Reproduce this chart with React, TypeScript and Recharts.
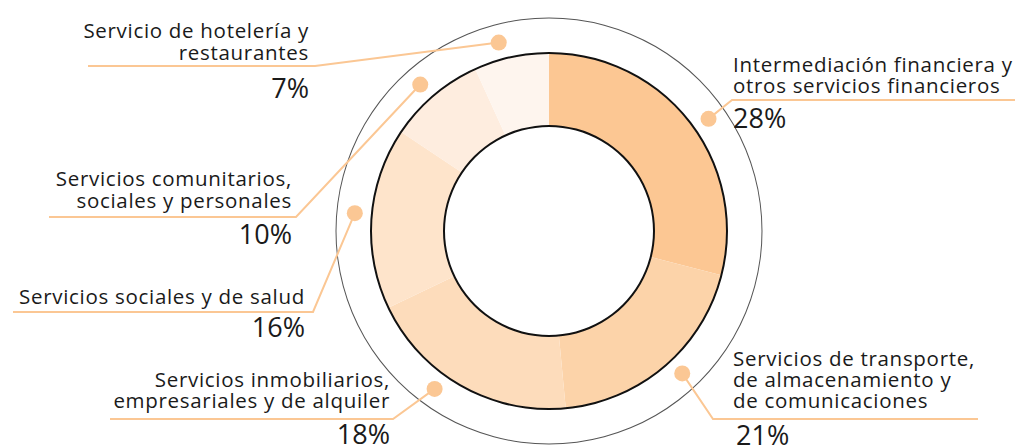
import React from 'react';
import { PieChart, Pie, Cell } from 'recharts';

// slice shares as drawn (the printed percentages are kept separately)
const sectors = [
  'Intermediación financiera y|otros servicios financieros',
  'Servicios de transporte,|de almacenamiento y|de comunicaciones',
  'Servicios inmobiliarios,|empresariales y de alquiler',
  'Servicios sociales y de salud',
  'Servicios comunitarios,|sociales y personales',
  'Servicio de hotelería y|restaurantes',
];
const shares = [29.0, 19.5, 19.4, 16.5, 8.8, 6.8];
const pctLabels = ['28%', '21%', '18%', '16%', '10%', '7%'];

const colors = ['#fcc793', '#fcd3a9', '#fddcbb', '#fee4cb', '#feeddf', '#fef5ee'];
const lineColor = '#fbc794';
const textColor = '#1a1a1a';
const font = '"Open Sans", Roboto, sans-serif';

const data = sectors.map((name, i) => ({ name, value: shares[i], pct: pctLabels[i] }));

// label layout: dot angle nudge, elbow of the leader, far end of the rule, text anchor and baselines
const layout = [
  { side: 'right', nudge: -2.7, elbowX: 732, lineY: 100, farX: 1015, textX: 733, lines: [72, 93], pctX: 733, pctY: 128 },
  { side: 'right', nudge: 2.6, elbowX: 713, lineY: 419, farX: 978, textX: 733, lines: [366, 387, 408], pctX: 736, pctY: 445 },
  { side: 'left', nudge: -6.4, elbowX: 393, lineY: 419, farX: 110, textX: 390, lines: [387, 408], pctX: 390, pctY: 444 },
  { side: 'left', nudge: -1.1, elbowX: 313, lineY: 312, farX: 13, textX: 305, lines: [304], pctX: 305, pctY: 337 },
  { side: 'left', nudge: 1, elbowX: 296, lineY: 217, farX: 49, textX: 292, lines: [186, 208], pctX: 292, pctY: 244 },
  { side: 'left', nudge: 2.7, elbowX: 315, lineY: 66, farX: 88, textX: 309, lines: [38, 60], pctX: 309, pctY: 98 },
];

const RADIAN = Math.PI / 180;

const renderLabel = (props: any) => {
  const { cx, cy, midAngle, index } = props;
  const l = layout[index];
  const r = 195;
  const a = (midAngle + l.nudge) * RADIAN;
  const dx = cx + r * Math.cos(-a);
  const dy = cy + r * Math.sin(-a);
  const anchor = l.side === 'left' ? 'end' : 'start';
  const parts = data[index].name.split('|');
  return (
    <g key={`lbl-${index}`}>
      <path
        d={`M${dx},${dy} L${l.elbowX},${l.lineY} L${l.farX},${l.lineY}`}
        stroke={lineColor}
        strokeWidth={2}
        fill="none"
      />
      <circle cx={dx} cy={dy} r={8} fill={lineColor} />
      {parts.map((p, j) => (
        <text key={j} x={l.textX} y={l.lines[j]} textAnchor={anchor} fontSize={20.5} letterSpacing={0.7}
          fill={textColor} fontFamily={font}>
          {p}
        </text>
      ))}
      <text x={l.pctX} y={l.pctY} textAnchor={anchor} fontSize={27} fill={textColor} fontFamily={font}>
        {data[index].pct}
      </text>
    </g>
  );
};

const ring = [{ value: 1 }];

export default function App() {
  return (
    <div style={{ position: 'absolute', left: 0, top: 0, background: '#fff' }}>
      <PieChart width={1017} height={448}>
        <Pie data={ring} dataKey="value" cx={544} cy={226} innerRadius={212.5} outerRadius={213.5}
          startAngle={90} endAngle={-270} fill="#555" stroke="none" isAnimationActive={false} />
        <Pie
          data={data}
          dataKey="value"
          cx={544}
          cy={226}
          innerRadius={105}
          outerRadius={178}
          startAngle={90}
          endAngle={-270}
          stroke="none"
          label={renderLabel}
          labelLine={false}
          isAnimationActive={false}
        >
          {data.map((d, i) => (
            <Cell key={d.name} fill={colors[i]} />
          ))}
        </Pie>
        <Pie data={ring} dataKey="value" cx={544} cy={226} innerRadius={177} outerRadius={179}
          startAngle={90} endAngle={-270} fill="#111" stroke="none" isAnimationActive={false} />
        <Pie data={ring} dataKey="value" cx={544} cy={226} innerRadius={104} outerRadius={106}
          startAngle={90} endAngle={-270} fill="#111" stroke="none" isAnimationActive={false} />
      </PieChart>
    </div>
  );
}
